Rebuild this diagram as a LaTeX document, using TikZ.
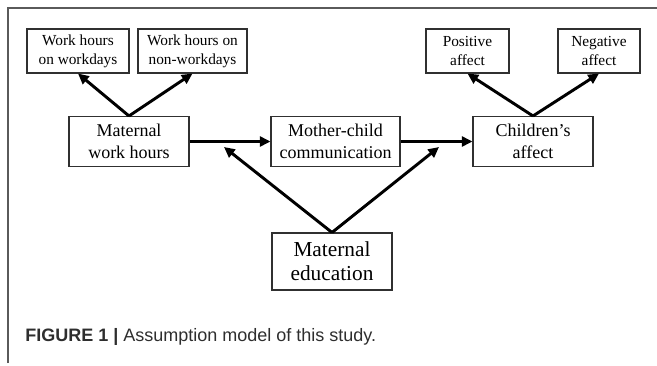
\documentclass[tikz,border=0pt]{standalone}
\usepackage{fontspec}
\setmainfont{Liberation Serif}
\newfontfamily\capfont{Liberation Sans}
\usetikzlibrary{arrows.meta}
\definecolor{framegray}{HTML}{5A5A5A}
\definecolor{boxline}{HTML}{303030}
\definecolor{captext}{HTML}{2E2E2E}
\begin{document}
\begin{tikzpicture}[x=0.75pt,y=-0.75pt,
  box/.style={draw=boxline,line width=0.8pt,rectangle,inner sep=0pt,align=center,text=black},
  smallbox/.style={box,font=\fontsize{11.5}{14.2}\selectfont},
  midbox/.style={box,font=\fontsize{13.5}{16.2}\selectfont},
  bigbox/.style={box,font=\fontsize{16}{18}\selectfont},
  arr/.style={line width=2.2pt,-{Triangle[length=8pt,width=7.5pt]}}
]
\useasboundingbox (0,0) rectangle (657,365);
\draw[framegray,line width=1pt] (8,363) -- (8,8) -- (657,8);

\node[smallbox,minimum width=102*0.75pt,minimum height=44*0.75pt] (w1) at (78,51) {Work hours\\on workdays};
\node[smallbox,minimum width=109*0.75pt,minimum height=44*0.75pt] (w2) at (192.5,51) {Work hours on\\non-workdays};
\node[smallbox,minimum width=83*0.75pt,minimum height=44*0.75pt] (pa) at (467.5,51) {Positive\\affect};
\node[smallbox,minimum width=82*0.75pt,minimum height=44*0.75pt] (na) at (599,51) {Negative\\affect};

\node[midbox,minimum width=120*0.75pt,minimum height=50*0.75pt] (mwh) at (129,141.5) {Maternal\\work hours};
\node[midbox,minimum width=129*0.75pt,minimum height=50*0.75pt] (mc) at (335.5,141.5) {Mother-child\\communication};
\node[midbox,minimum width=120*0.75pt,minimum height=50*0.75pt] (ca) at (533,141.5) {Children’s\\affect};

\node[bigbox,minimum width=120*0.75pt,minimum height=57*0.75pt] (me) at (332,261.5) {Maternal\\education};

\coordinate (t1) at (224,147);
\coordinate (t2) at (439,147);

\draw[arr] (mwh.north) -- (w1.south);
\draw[arr] (mwh.north) -- (w2.south);
\draw[arr] (ca.north) -- (pa.south);
\draw[arr] (ca.north) -- (na.south);
\draw[arr] (mwh.east) -- (mc.west);
\draw[arr] (mc.east) -- (ca.west);
\draw[arr] (me.north) -- (t1);
\draw[arr] (me.north) -- (t2);

\node[anchor=base west,inner sep=0pt,text=captext,font=\capfont\fontsize{13.5}{16}\selectfont] (cap) at (25,341) {\textbf{FIGURE 1 |} Assumption model of this study.};
\end{tikzpicture}
\end{document}
